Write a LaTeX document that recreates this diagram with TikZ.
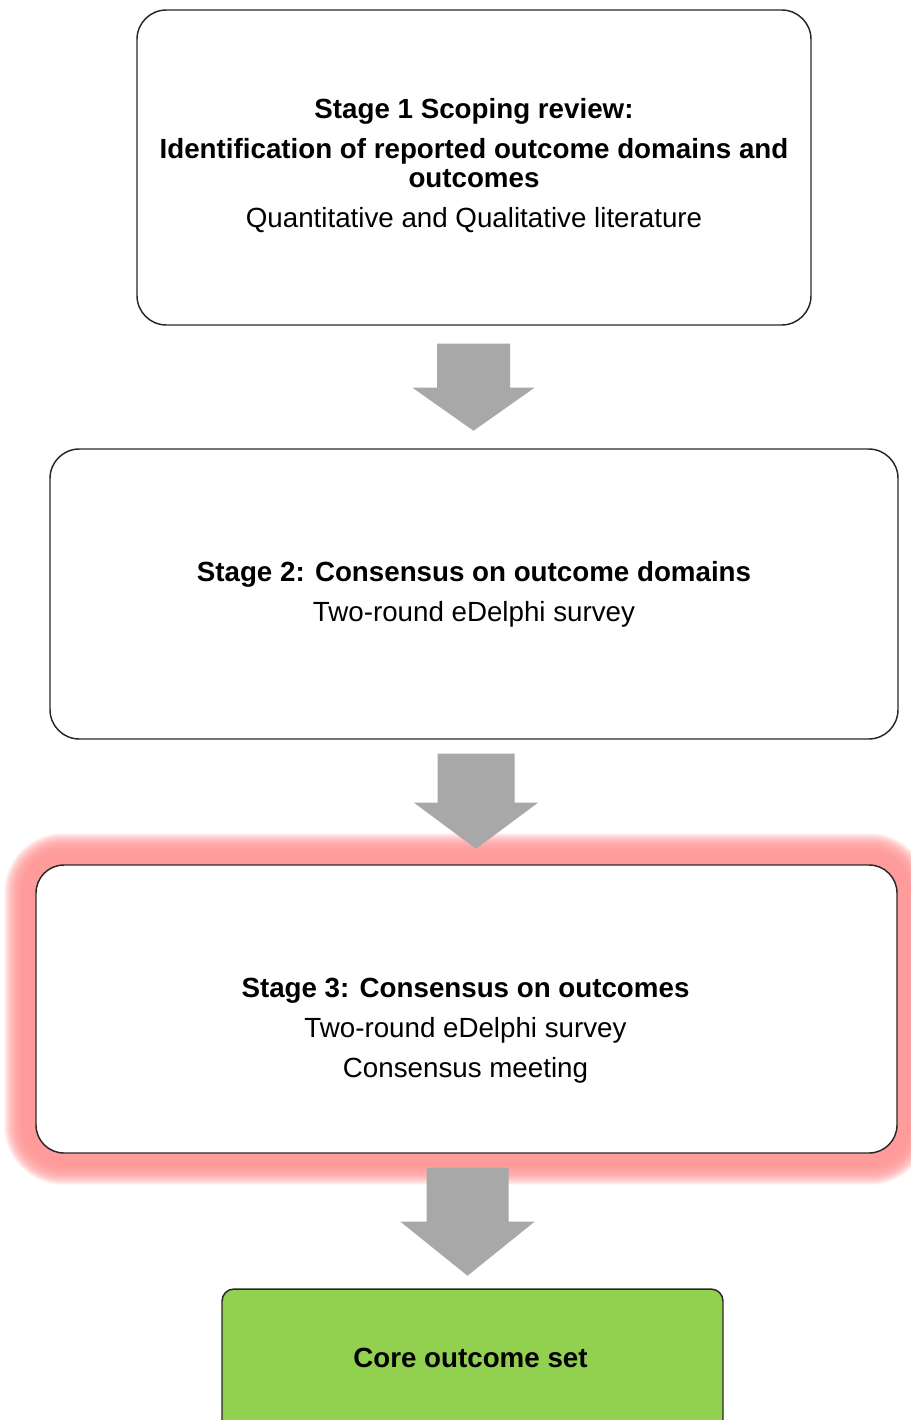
\documentclass[tikz,border=0pt]{standalone}
\usepackage{fontspec}
\setmainfont{Liberation Sans}
\usetikzlibrary{calc,backgrounds}
\definecolor{arrowgray}{RGB}{168,168,168}
\definecolor{glowred}{RGB}{255,150,150}
\definecolor{coregreen}{RGB}{146,208,80}
\definecolor{boxline}{RGB}{40,40,40}

\tikzset{
  stagebox/.style={draw=boxline, line width=1.1pt, fill=white, inner sep=0pt},
  stagetext/.style={align=center, anchor=base, inner sep=0pt,
    font=\fontsize{20.8}{30}\selectfont},
  pics/blockarrow/.style args={#1/#2/#3/#4}{code={
    \fill[arrowgray] (-#1,0) -- (#1,0) -- (#1,#3) -- (#2,#3) -- (0,#4)
      -- (-#2,#3) -- (-#1,#3) -- cycle;
  }}
}

\begin{document}
\begin{tikzpicture}[x=0.75pt,y=-0.75pt]
\useasboundingbox (0,0) rectangle (910,1420);
\clip (0,0) rectangle (910,1420);

% stage boxes
\node[stagebox, rounded corners=22pt, minimum width=505.5pt, minimum height=236.25pt] (b1) at (474,167.5) {};
\node[stagebox, rounded corners=22pt, minimum width=636pt, minimum height=217.5pt] (b2) at (474,594) {};
\node[stagebox, rounded corners=21pt, minimum width=645.75pt, minimum height=216pt] (b3) at (466.5,1009) {};
\node[stagebox, fill=coregreen, rounded corners=9pt, minimum width=375.75pt, minimum height=113.25pt] (b4) at (472.5,1364.5) {};

% white page and soft red glow round stage 3
\begin{pgfonlayer}{background}
\fill[white] (0,0) rectangle (910,1420);
\foreach \e [evaluate=\e as \r using 21+0.75*\e] in {12,...,31}
  \fill[glowred, fill opacity=0.12, rounded corners=\r pt]
    ($(b3.north west)+(-\e,-\e)$) rectangle ($(b3.south east)+(\e,\e)$);
\end{pgfonlayer}

% block arrows between the stages
\pic at ($(b1.south)+(-0.5,18)$) {blockarrow=36.5/61/44/87};
\pic at ($(b2.south)+(2,14)$) {blockarrow=38.5/62/49/95};
\pic at ($(b3.south)+(1,14)$) {blockarrow=41/67/54/108};

% texts (anchored at the baseline of their last line)
\node[stagetext] (t1) at (474,227) {\bfseries Stage 1 Scoping review:\\
  \bfseries Identification of reported outcome domains and\\[-8.25pt]
  \bfseries outcomes\\
  Quantitative and Qualitative literature};
\node[stagetext] (t2) at (474,621) {\bfseries Stage 2: Consensus on outcome domains\\
  Two-round eDelphi survey};
\node[stagetext] (t3) at (465.5,1077) {\bfseries Stage 3: Consensus on outcomes\\
  Two-round eDelphi survey\\
  Consensus meeting};
\node[stagetext] (t4) at (470.5,1367) {\bfseries Core outcome set};
\end{tikzpicture}
\end{document}
